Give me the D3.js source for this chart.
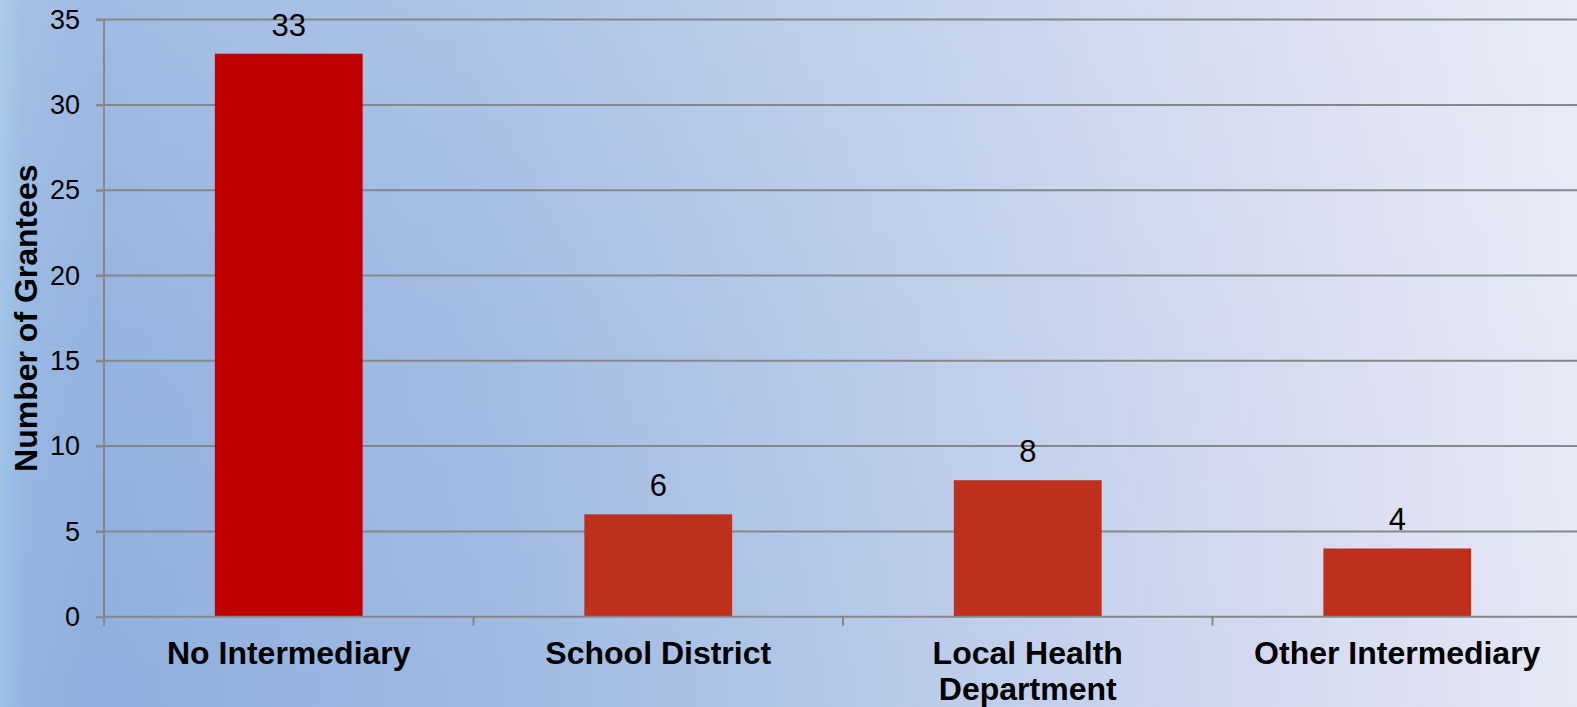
<!DOCTYPE html>
<html>
<head>
<meta charset="utf-8">
<script src="https://cdn.jsdelivr.net/npm/d3@7"></script>
<style>
  html, body { margin: 0; padding: 0; overflow: hidden; }
  svg { display: block; font-family: "Liberation Sans", Arial, sans-serif; }
</style>
</head>
<body>
<svg id="chart" width="1577" height="707"></svg>
<script>
// Data
const categories = ["No Intermediary", "School District", "Local Health Department", "Other Intermediary"];
const categoryLines = [["No Intermediary"], ["School District"], ["Local Health", "Department"], ["Other Intermediary"]];
const values = [33, 6, 8, 4];
const barColors = ["#C00000", "#BE301C", "#BE301C", "#BE301C"];
const yTicks = [0, 5, 10, 15, 20, 25, 30, 35];
const yTitle = "Number of Grantees";

(function () {
const W = 1577, H = 707;
const svg = d3.select("#chart");
const defs = svg.append("defs");

// Background gradients
const g1 = defs.append("linearGradient").attr("id", "bgH").attr("x1", 0).attr("x2", 1).attr("y1", 0).attr("y2", 0);
[[0, "#9cc2e6"], [0.015, "#93b4e0"], [0.06, "#8fafde"], [0.3, "#9db8e2"], [0.55, "#b5c9e8"], [0.75, "#cdd6ee"], [0.9, "#dde0f2"], [1, "#e6e8f5"]]
  .forEach(([o, c]) => g1.append("stop").attr("offset", o).attr("stop-color", c));
const g2 = defs.append("linearGradient").attr("id", "bgV").attr("x1", 0).attr("x2", 0).attr("y1", 0).attr("y2", 1);
[[0, "#ffffff", 0.16], [0.5, "#ffffff", 0.05], [1, "#ffffff", 0]]
  .forEach(([o, c, a]) => g2.append("stop").attr("offset", o).attr("stop-color", c).attr("stop-opacity", a));

svg.append("rect").attr("width", W).attr("height", H).attr("fill", "url(#bgH)");
svg.append("rect").attr("width", W).attr("height", H).attr("fill", "url(#bgV)");

// Scales
const mLeft = 104, mTop = 19.6, mBottom = 616.7, mRight = 1582;
const x = d3.scaleBand().domain(categories).range([mLeft, mRight]).paddingInner(0.6).paddingOuter(0.3);
const y = d3.scaleLinear().domain([0, 35]).range([mBottom, mTop]);

// Gridlines
svg.append("g").selectAll("line").data(yTicks.filter(d => d > 0)).join("line")
  .attr("x1", mLeft - 8).attr("x2", W)
  .attr("y1", d => y(d)).attr("y2", d => y(d))
  .attr("stroke", "#878787").attr("stroke-width", 2);

// Y axis
const yAxis = svg.append("g").attr("transform", `translate(${mLeft},0)`)
  .call(d3.axisLeft(y).tickValues(yTicks).tickSize(8).tickPadding(16).tickFormat(d3.format("d")));
yAxis.select(".domain").attr("stroke", "#878787").attr("stroke-width", 2).attr("d", `M0,${mTop}V${mBottom}`);
yAxis.selectAll(".tick line").attr("stroke", "#878787").attr("stroke-width", 2);
yAxis.selectAll(".tick text").attr("font-size", 27).attr("fill", "#000").attr("font-family", "Liberation Sans, Arial, sans-serif");

// Bars
svg.append("g").selectAll("rect").data(values).join("rect")
  .attr("x", (d, i) => x(categories[i]))
  .attr("width", x.bandwidth())
  .attr("y", d => y(d))
  .attr("height", d => y(0) - y(d))
  .attr("fill", (d, i) => barColors[i]);

// X axis line + ticks at band boundaries
const step = x.step();
const boundaries = d3.range(categories.length + 1).map(i => mLeft + i * step);
svg.append("line").attr("x1", mLeft).attr("x2", W).attr("y1", y(0)).attr("y2", y(0))
  .attr("stroke", "#878787").attr("stroke-width", 2);
svg.append("g").selectAll("line").data(boundaries).join("line")
  .attr("x1", d => d).attr("x2", d => d)
  .attr("y1", y(0)).attr("y2", y(0) + 9)
  .attr("stroke", "#878787").attr("stroke-width", 2);

// Value labels
svg.append("g").selectAll("text").data(values).join("text")
  .attr("x", (d, i) => x(categories[i]) + x.bandwidth() / 2)
  .attr("y", d => y(d) - 18)
  .attr("text-anchor", "middle")
  .attr("font-size", 31)
  .attr("fill", "#000")
  .text(d => d);

// Category labels
const cl = svg.append("g").selectAll("text").data(categoryLines).join("text")
  .attr("x", (d, i) => x(categories[i]) + x.bandwidth() / 2)
  .attr("y", 664)
  .attr("text-anchor", "middle")
  .attr("font-size", 32)
  .attr("font-weight", "bold")
  .attr("fill", "#000");
cl.selectAll("tspan").data(d => d).join("tspan")
  .attr("x", function () { return d3.select(this.parentNode).attr("x"); })
  .attr("dy", (d, i) => i === 0 ? 0 : 36)
  .text(d => d);

// Y title
svg.append("text")
  .attr("transform", `translate(37,${(mTop + mBottom) / 2}) rotate(-90)`)
  .attr("text-anchor", "middle")
  .attr("font-size", 32)
  .attr("font-weight", "bold")
  .attr("fill", "#000")
  .text(yTitle);
})();
</script>
</body>
</html>
